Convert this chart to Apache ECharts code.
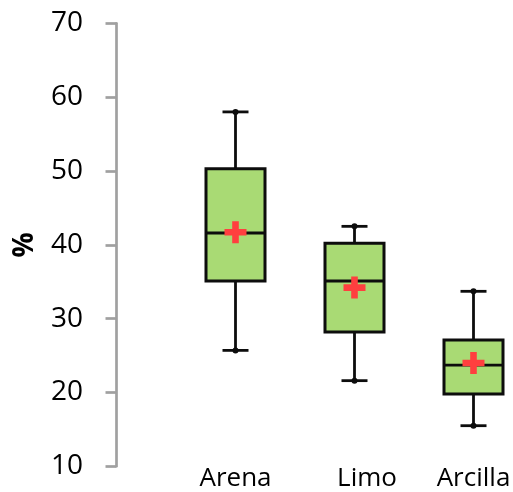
<!DOCTYPE html>
<html>
<head>
<meta charset="utf-8">
<script src="https://cdn.jsdelivr.net/npm/echarts@6/dist/echarts.min.js"></script>
<style>
html,body{margin:0;padding:0;background:#fff;}
#chart{width:513px;height:492px;}
</style>
</head>
<body>
<div id="chart"></div>
<script>
const categories = ['Arena', 'Limo', 'Arcilla'];
const minVals    = [25.7, 21.6, 15.5];
const q1Vals     = [35.1, 28.2, 19.8];
const medianVals = [41.6, 35.1, 23.7];
const q3Vals     = [50.3, 40.2, 27.1];
const maxVals    = [58.0, 42.5, 33.7];
const meanVals   = [41.7, 34.2, 24.0];
const yTicks = { min: 10, max: 70, interval: 10 };
const yName = '%';

const boxData = categories.map((c, i) => [i, minVals[i], q1Vals[i], medianVals[i], q3Vals[i], maxVals[i]]);
const meanData = categories.map((c, i) => [i, meanVals[i]]);

const FONT = 'Open Sans';
const chart = echarts.init(document.getElementById('chart'), null, { renderer: 'canvas' });

const yAxisBase = {
  type: 'value', min: yTicks.min, max: yTicks.max, interval: yTicks.interval,
  offset: 60,
  splitLine: { show: false },
  axisLine: { show: true, lineStyle: { color: '#A0A0A0', width: 2.7 } }
};

chart.setOption({
  animation: false,
  grid: { left: 176, right: -20, top: 23.3, bottom: 25.7, containLabel: false, outerBoundsMode: 'none' },
  xAxis: {
    type: 'category', data: categories,
    axisLine: { show: false }, axisTick: { show: false },
    axisLabel: {
      interval: 0, hideOverlap: false,
      color: '#000', fontFamily: FONT, fontSize: 26, fontWeight: 500, margin: -1,
      formatter: function (v) { return v === 'Limo' ? '{s|' + v + '}' : '{n|' + v + '}'; },
      rich: {
        n: { color: '#000', fontFamily: FONT, fontSize: 26, fontWeight: 500 },
        s: { color: '#000', fontFamily: FONT, fontSize: 26, fontWeight: 500, padding: [0, 0, 0, 25] }
      }
    }
  },
  yAxis: [
    Object.assign({}, yAxisBase, {
      name: yName, nameLocation: 'middle', nameRotate: 90, nameGap: 77,
      nameTextStyle: { color: '#000', fontFamily: FONT, fontSize: 28, fontWeight: 'bold' },
      axisTick: { show: true, inside: false, length: 10.5, lineStyle: { color: '#A0A0A0', width: 2.7 } },
      axisLabel: { color: '#000', fontFamily: FONT, fontSize: 28, fontWeight: 500, margin: 33 }
    }),
    Object.assign({}, yAxisBase, {
      axisTick: { show: true, inside: true, length: 10.5, lineStyle: { color: '#A0A0A0', width: 2.7 } },
      axisLabel: { show: false }
    })
  ],
  series: [
    {
      type: 'custom',
      data: boxData,
      encode: { x: 0, y: [1, 2, 3, 4, 5] },
      z: 2,
      renderItem: function (params, api) {
        const i = api.value(0);
        const pMin = api.coord([i, api.value(1)]);
        const pQ1 = api.coord([i, api.value(2)]);
        const pMed = api.coord([i, api.value(3)]);
        const pQ3 = api.coord([i, api.value(4)]);
        const pMax = api.coord([i, api.value(5)]);
        const x = pMin[0];
        const halfBox = 29.5, halfCap = 13;
        const ls = { stroke: '#0d0d0d', lineWidth: 2.8, fill: null };
        return {
          type: 'group',
          children: [
            { type: 'line', shape: { x1: x, y1: pMax[1], x2: x, y2: pQ3[1] }, style: ls },
            { type: 'line', shape: { x1: x, y1: pQ1[1], x2: x, y2: pMin[1] }, style: ls },
            { type: 'line', shape: { x1: x - halfCap, y1: pMax[1], x2: x + halfCap, y2: pMax[1] }, style: ls },
            { type: 'line', shape: { x1: x - halfCap, y1: pMin[1], x2: x + halfCap, y2: pMin[1] }, style: ls },
            { type: 'circle', shape: { cx: x, cy: pMax[1], r: 3 }, style: { fill: '#0d0d0d' } },
            { type: 'circle', shape: { cx: x, cy: pMin[1], r: 3 }, style: { fill: '#0d0d0d' } },
            { type: 'rect', shape: { x: x - halfBox, y: pQ3[1], width: halfBox * 2, height: pQ1[1] - pQ3[1] },
              style: { fill: '#A9DA74', stroke: '#0d0d0d', lineWidth: 3 } },
            { type: 'line', shape: { x1: x - halfBox, y1: pMed[1], x2: x + halfBox, y2: pMed[1] }, style: ls }
          ]
        };
      }
    },
    {
      type: 'scatter',
      data: meanData,
      z: 5,
      symbol: 'path://M3.85,0H7.15V3.85H11V7.15H7.15V11H3.85V7.15H0V3.85H3.85Z',
      symbolSize: 22,
      itemStyle: { color: '#FF3F3F', opacity: 1 }
    }
  ]
});
</script>
</body>
</html>
